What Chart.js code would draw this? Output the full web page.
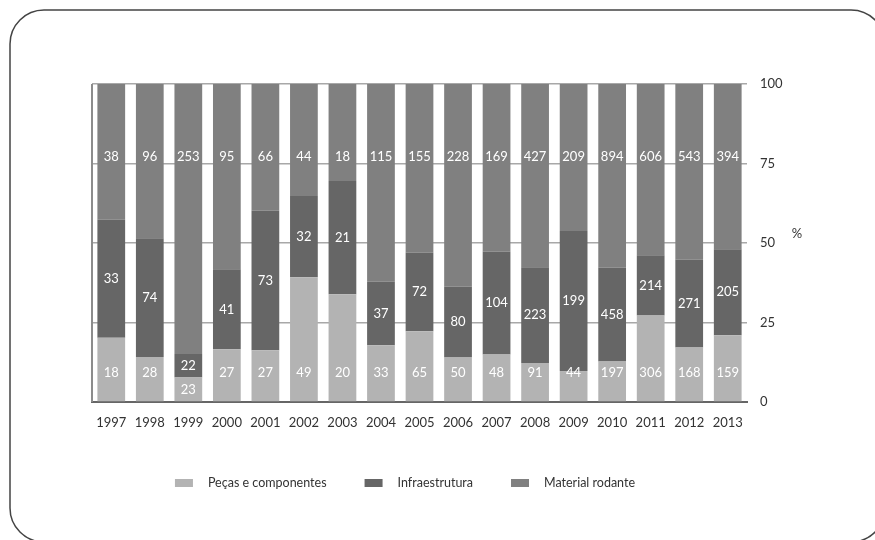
<!DOCTYPE html>
<html>
<head>
<meta charset="utf-8">
<script src="https://cdn.jsdelivr.net/npm/chart.js@4/dist/chart.umd.min.js"></script>
<style>
  html, body { margin: 0; padding: 0; background: #fff; }
  #wrap { width: 875px; height: 540px; position: relative; }
</style>
</head>
<body>
<div id="wrap"><canvas id="chart" width="875" height="540"></canvas></div>
<script>
const years = ["1997", "1998", "1999", "2000", "2001", "2002", "2003", "2004", "2005",
  "2006", "2007", "2008", "2009", "2010", "2011", "2012", "2013"];
const pecas = [18, 28, 23, 27, 27, 49, 20, 33, 65, 50, 48, 91, 44, 197, 306, 168, 159];
const infra = [33, 74, 22, 41, 73, 32, 21, 37, 72, 80, 104, 223, 199, 458, 214, 271, 205];
const material = [38, 96, 253, 95, 66, 44, 18, 115, 155, 228, 169, 427, 209, 894, 606, 543, 394];
const seriesNames = ["Peças e componentes", "Infraestrutura", "Material rodante"];
const yTicks = [0, 25, 50, 75, 100];

const colors = ["#b3b3b3", "#666666", "#808080"];
const FONT = "Lato, 'Open Sans', sans-serif";
const textColor = "#333333";

const totals = years.map((_, i) => pecas[i] + infra[i] + material[i]);
const toPct = (arr) => arr.map((v, i) => (v / totals[i]) * 100);
const raw = [pecas, infra, material];

// rounded frame, left axis line, "%" and the legend
const decor = {
  id: "decor",
  beforeDraw(chart) {
    const ctx = chart.ctx;
    ctx.save();
    ctx.beginPath();
    ctx.roundRect(10, 10, 875, 532, 34);
    ctx.strokeStyle = "#444";
    ctx.lineWidth = 1.5;
    ctx.stroke();
    ctx.restore();
  },
  afterDraw(chart) {
    const ctx = chart.ctx;
    const area = chart.chartArea;
    ctx.save();
    ctx.strokeStyle = "#8c8c8c";
    ctx.lineWidth = 2;
    ctx.beginPath();
    ctx.moveTo(area.left, area.top);
    ctx.lineTo(area.left, area.bottom);
    ctx.stroke();

    ctx.fillStyle = textColor;
    ctx.font = "13px " + FONT;
    ctx.textAlign = "center";
    ctx.textBaseline = "middle";
    ctx.fillText("%", 797, 234);

    // legend
    ctx.font = "12.5px " + FONT;
    const boxW = 18, boxH = 8, boxGap = 15, itemGap = 38, ly = 483;
    const widths = seriesNames.map((n) => ctx.measureText(n).width);
    const total = widths.reduce((a, w) => a + boxW + boxGap + w, 0) + itemGap * (seriesNames.length - 1);
    let x = 405 - total / 2;
    ctx.textAlign = "left";
    seriesNames.forEach((name, i) => {
      ctx.fillStyle = colors[i];
      ctx.fillRect(x, ly - boxH / 2, boxW, boxH);
      ctx.fillStyle = textColor;
      ctx.fillText(name, x + boxW + boxGap, ly);
      x += boxW + boxGap + widths[i] + itemGap;
    });
    ctx.restore();
  }
};

// white value labels inside the segments
const valueLabels = {
  id: "valueLabels",
  afterDatasetsDraw(chart) {
    const ctx = chart.ctx;
    const yScale = chart.scales.y;
    ctx.save();
    ctx.fillStyle = "#ffffff";
    ctx.font = "13px " + FONT;
    ctx.textAlign = "center";
    ctx.textBaseline = "middle";
    chart.data.datasets.forEach((ds, di) => {
      const meta = chart.getDatasetMeta(di);
      meta.data.forEach((bar, i) => {
        let y;
        if (di === 0) {
          y = ds.data[i] >= 9 ? yScale.getPixelForValue(9.1) : (bar.y + bar.base) / 2;
        } else if (di === 1) {
          y = (bar.y + bar.base) / 2;
        } else {
          y = yScale.getPixelForValue(77);
        }
        ctx.fillText(String(raw[di][i]), bar.x, y);
      });
    });
    ctx.restore();
  }
};

new Chart(document.getElementById("chart"), {
  type: "bar",
  data: {
    labels: years,
    datasets: seriesNames.map((name, i) => ({
      label: name,
      data: toPct(raw[i]),
      backgroundColor: colors[i],
      borderWidth: 0,
      categoryPercentage: 1,
      barPercentage: 0.72,
    })),
  },
  options: {
    responsive: false,
    animation: false,
    devicePixelRatio: 1,
    layout: { padding: { left: 92, top: 84, right: 88, bottom: 108 } },
    plugins: {
      legend: { display: false },
      tooltip: { enabled: false },
    },
    scales: {
      x: {
        stacked: true,
        grid: { display: false },
        border: { display: true, color: "#666666", width: 2 },
        ticks: { color: textColor, font: { family: FONT, size: 13 }, padding: 5, maxRotation: 0 },
        afterFit(scale) { scale.height = 30; },
      },
      y: {
        stacked: true,
        position: "right",
        min: 0,
        max: 100,
        afterBuildTicks(scale) { scale.ticks = yTicks.map((v) => ({ value: v })); },
        grid: { color: "#a8a8a8", lineWidth: 1.5, drawTicks: false },
        border: { display: false },
        ticks: { color: textColor, font: { family: FONT, size: 13 }, padding: 13 },
        afterFit(scale) { scale.width = 40; },
      },
    },
  },
  plugins: [decor, valueLabels],
});
</script>
</body>
</html>
